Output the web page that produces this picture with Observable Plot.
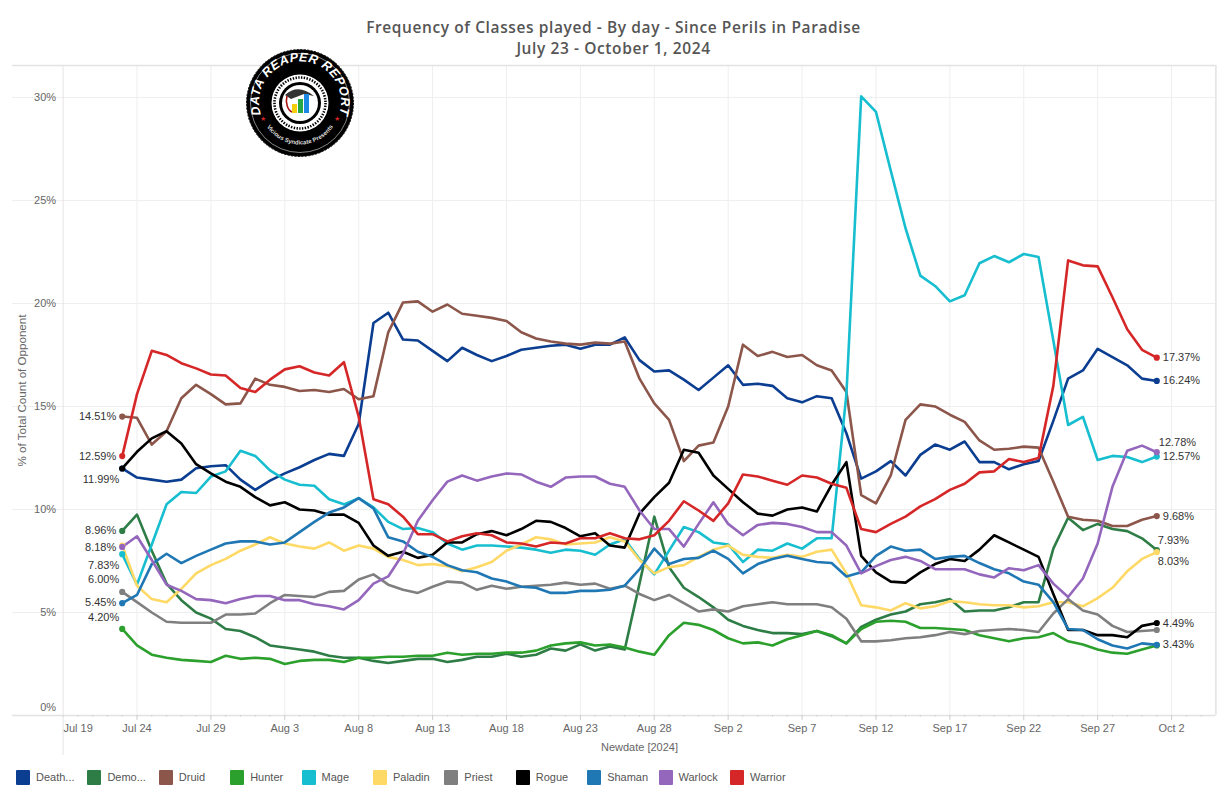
<!DOCTYPE html>
<html>
<head>
<meta charset="utf-8">
<script src="https://cdn.jsdelivr.net/npm/d3@7"></script>
<script src="https://cdn.jsdelivr.net/npm/@observablehq/plot@0.6"></script>
<style>
html,body{margin:0;padding:0;background:#fff;width:1230px;height:802px;overflow:hidden;position:relative}
#title{height:62px;box-sizing:border-box;padding-top:17px;text-align:center;font:600 15.5px/20.5px "Open Sans";color:#555;letter-spacing:.6px;margin-left:-3px}
#chart svg{display:block}
#legend{position:absolute;left:16px;top:769px;display:flex;font:11px "Liberation Sans";color:#555}
#legend .it{width:71.4px;display:flex;align-items:center;height:16px}
#legend .sw{width:14px;height:15px;margin-right:6px;border-radius:1px}
#logo{position:absolute;left:245px;top:47px}
</style>
</head>
<body>
<div id="title">Frequency of Classes played - By day - Since Perils in Paradise<br>July 23 - October 1, 2024</div>
<div id="chart"></div>
<div id="legend"></div>
<svg id="logo" width="110" height="112" viewBox="-55 -56 110 112">
  <defs>
    <path id="arcTop" d="M -39 12 A 41 41 0 1 1 39 12"/>
    <path id="arcBot" d="M -38 14 A 40 40 0 0 0 38 14"/>
  </defs>
  <circle r="53.5" fill="#000" stroke="#111" stroke-width="1" stroke-dasharray="2 1.5"/>
  <circle r="49.5" fill="none" stroke="#ddd" stroke-width=".6"/>
  <text font-family="Liberation Sans" font-weight="bold" font-style="italic" font-size="12.6" fill="#fff" letter-spacing=".5"><textPath href="#arcTop" startOffset="50%" text-anchor="middle">DATA REAPER REPORT</textPath></text>
  <text font-family="Liberation Sans" font-weight="bold" font-size="6" fill="#ddd"><textPath href="#arcBot" startOffset="50%" text-anchor="middle">Vicious Syndicate Presents</textPath></text>
  <circle r="28.5" fill="#fff"/>
  <circle r="25.5" fill="none" stroke="#000" stroke-width="2.6" stroke-dasharray="1.4 1.4"/>
  <circle r="21" fill="#000"/>
  <circle r="18" fill="#fff"/>
  <path d="M-15 -8 Q-2 -20 14 -7 L4 -9 L-9 -4 Z" fill="#333"/>
  <path d="M-13 -7 A 8 12 0 0 0 -8 9" fill="none" stroke="#a11" stroke-width="1.6"/>
  <rect x="-8" y="1" width="5" height="9" fill="#f4d00c"/>
  <rect x="-2" y="-4" width="5" height="14" fill="#28a745"/>
  <rect x="4" y="-9" width="5" height="19" fill="#1e88e5"/>
  <text x="-37" y="18" font-size="7" fill="#c22" text-anchor="middle">★</text>
  <text x="37" y="18" font-size="7" fill="#c22" text-anchor="middle">★</text>
</svg>
<script>
const classes = ["Death...", "Demo...", "Druid", "Hunter", "Mage", "Paladin", "Priest", "Rogue", "Shaman", "Warlock", "Warrior"];
const colors = ["#0b3d91", "#2e7d46", "#8c564b", "#2ca02c", "#17becf", "#ffd966", "#7f7f7f", "#000000", "#1f77b4", "#9467bd", "#d62728"];

const deathKnight = [11.99,11.55,11.45,11.35,11.45,12.0,12.1,12.15,11.45,10.95,11.4,11.75,12.05,12.4,12.7,12.6,14.15,19.05,19.55,18.25,
  18.2,17.7,17.2,17.85,17.5,17.2,17.45,17.75,17.85,17.95,18.0,17.8,18.0,18.0,18.35,17.25,16.7,16.75,16.3,15.8,
  16.4,17.0,16.05,16.1,16.0,15.4,15.2,15.5,15.4,13.7,11.5,11.85,12.35,11.65,12.65,13.15,12.9,13.3,12.3,12.3,
  11.95,12.2,12.35,14.3,16.35,16.75,17.8,17.4,17.0,16.35,16.24];
const demonHunter = [8.96,9.75,8.0,6.4,5.6,5.0,4.7,4.2,4.1,3.8,3.4,3.3,3.2,3.1,2.9,2.8,2.8,2.65,2.55,2.65,
  2.75,2.75,2.6,2.7,2.85,2.85,3.0,2.85,2.95,3.25,3.15,3.45,3.15,3.35,3.2,6.4,9.65,7.2,6.2,5.75,
  5.25,4.65,4.35,4.15,4.0,4.0,3.95,4.1,3.85,3.5,4.3,4.65,4.9,5.05,5.4,5.5,5.65,5.05,5.1,5.1,
  5.25,5.5,5.5,8.1,9.6,9.0,9.3,9.05,8.95,8.6,8.03];
const druid = [14.51,14.45,13.15,13.8,15.4,16.05,15.6,15.1,15.15,16.35,16.05,15.95,15.75,15.8,15.7,15.85,15.35,15.5,18.6,20.05,
  20.1,19.6,19.95,19.5,19.4,19.3,19.15,18.6,18.3,18.15,18.05,18.0,18.1,18.05,18.15,16.35,15.15,14.35,12.35,13.1,
  13.25,15.0,18.0,17.45,17.65,17.4,17.5,17.0,16.75,15.7,10.7,10.3,11.65,14.35,15.1,15.0,14.6,14.25,13.35,12.9,
  12.95,13.05,13.0,11.35,9.65,9.5,9.45,9.2,9.2,9.5,9.68];
const hunter = [4.2,3.4,2.95,2.8,2.7,2.65,2.6,2.9,2.75,2.8,2.75,2.5,2.65,2.7,2.7,2.6,2.8,2.8,2.85,2.85,
  2.9,2.9,3.05,2.95,3.0,3.0,3.05,3.05,3.15,3.4,3.5,3.55,3.4,3.45,3.3,3.1,2.95,3.9,4.5,4.4,
  4.15,3.75,3.5,3.55,3.4,3.7,3.9,4.1,3.9,3.5,4.2,4.55,4.6,4.55,4.25,4.25,4.2,4.15,3.9,3.75,
  3.6,3.75,3.8,4.0,3.6,3.45,3.2,3.05,3.0,3.2,3.4];
const mage = [7.83,6.35,8.3,10.25,10.85,10.8,11.6,11.85,12.85,12.6,11.9,11.45,11.2,11.15,10.5,10.25,10.55,10.1,9.4,9.05,
  9.1,8.9,8.35,8.05,8.25,8.25,8.2,8.15,8.05,7.9,8.05,8.0,7.8,8.3,8.55,7.6,6.85,8.0,9.15,8.9,
  8.4,8.3,7.45,8.05,8.0,8.35,8.1,8.6,8.6,15.6,30.05,29.3,26.45,23.65,21.35,20.85,20.1,20.4,21.95,22.3,
  22.0,22.4,22.25,18.2,14.1,14.5,12.4,12.6,12.55,12.3,12.57];
const paladin = [8.25,6.3,5.65,5.5,6.15,6.9,7.3,7.6,8.0,8.3,8.65,8.35,8.2,8.1,8.4,8.0,8.25,8.1,7.7,7.55,
  7.3,7.35,7.25,7.0,7.2,7.45,8.0,8.3,8.65,8.55,8.3,8.35,8.4,8.65,8.45,7.55,6.9,7.2,7.3,7.7,
  8.05,8.25,7.8,7.7,7.65,7.8,7.7,7.95,8.05,6.9,5.35,5.25,5.1,5.45,5.2,5.3,5.55,5.5,5.4,5.35,
  5.35,5.25,5.3,5.5,5.5,5.3,5.7,6.2,7.0,7.6,7.93];
const priest = [6.0,5.5,5.0,4.55,4.5,4.5,4.5,4.9,4.9,4.95,5.45,5.85,5.8,5.75,6.0,6.05,6.6,6.85,6.35,6.1,
  5.95,6.25,6.5,6.45,6.1,6.3,6.15,6.25,6.3,6.35,6.45,6.35,6.4,6.15,6.3,5.9,5.6,5.85,5.45,5.05,
  5.15,5.05,5.3,5.4,5.5,5.4,5.4,5.4,5.25,4.7,3.6,3.6,3.65,3.75,3.8,3.9,4.05,3.95,4.1,4.15,
  4.2,4.15,4.05,4.95,5.65,5.1,4.9,4.35,4.05,4.1,4.15];
const rogue = [11.99,12.8,13.45,13.8,13.2,12.2,11.75,11.35,11.1,10.6,10.2,10.35,10.0,9.95,9.75,9.75,9.35,8.25,7.75,7.95,
  7.65,7.8,8.4,8.4,8.8,8.95,8.75,9.05,9.45,9.4,9.1,8.7,8.85,8.25,8.15,9.8,10.6,11.3,12.9,12.75,
  11.65,11.0,10.35,9.8,9.7,10.0,10.1,9.9,11.2,12.3,7.75,6.95,6.5,6.45,6.95,7.35,7.6,7.5,8.05,8.75,
  8.4,8.05,7.7,5.9,4.15,4.15,3.9,3.9,3.8,4.35,4.49];
const shaman = [5.45,5.85,7.35,7.85,7.4,7.75,8.05,8.35,8.45,8.45,8.3,8.4,8.9,9.4,9.85,10.1,10.55,10.05,8.65,8.45,
  7.95,7.7,7.3,7.05,6.95,6.65,6.5,6.25,6.2,5.95,5.95,6.05,6.05,6.1,6.3,7.1,8.1,7.35,7.6,7.65,
  8.0,7.6,6.9,7.35,7.6,7.75,7.6,7.45,7.4,6.75,6.95,7.75,8.2,8.0,8.05,7.6,7.7,7.75,7.4,7.1,
  6.9,6.5,6.35,5.5,4.2,4.15,3.7,3.4,3.25,3.5,3.43];
const warlock = [8.18,8.7,7.55,6.35,6.05,5.65,5.6,5.45,5.65,5.8,5.8,5.6,5.6,5.4,5.3,5.15,5.6,6.4,6.75,7.85,
  9.45,10.45,11.35,11.65,11.4,11.6,11.75,11.7,11.35,11.1,11.55,11.6,11.6,11.25,11.1,9.95,9.05,9.05,8.2,9.3,
  10.35,9.3,8.75,9.25,9.35,9.3,9.15,8.9,8.9,8.25,6.9,7.25,7.55,7.7,7.5,7.1,7.1,7.1,6.85,6.7,
  7.15,7.05,7.3,6.4,5.75,6.65,8.35,11.1,12.85,13.1,12.78];
const warrior = [12.59,15.6,17.7,17.5,17.1,16.85,16.55,16.5,15.9,15.7,16.3,16.8,16.95,16.65,16.5,17.15,14.5,10.5,10.25,9.65,
  8.8,8.8,8.45,8.7,8.85,8.75,8.4,8.35,8.2,8.4,8.35,8.6,8.6,8.85,8.6,8.55,8.75,9.45,10.4,9.95,
  9.45,10.3,11.7,11.6,11.4,11.2,11.65,11.55,11.25,11.05,9.05,8.9,9.3,9.65,10.15,10.5,10.95,11.25,11.8,11.85,
  12.45,12.3,12.5,16.0,22.09,21.85,21.8,20.3,18.75,17.75,17.37];

const seriesValues = [deathKnight, demonHunter, druid, hunter, mage, paladin, priest, rogue, shaman, warlock, warrior];
const xTickLabels = ["Jul 24","Jul 29","Aug 3","Aug 8","Aug 13","Aug 18","Aug 23","Aug 28","Sep 2","Sep 7","Sep 12","Sep 17","Sep 22","Sep 27","Oct 2"];
const yTicks = [5, 10, 15, 20, 25, 30];

const day = i => new Date(Date.UTC(2024, 6, 23 + i));
const parseTick = s => d3.utcParse("%b %d %Y")(s + " 2024");
const rows = classes.flatMap((c, k) => seriesValues[k].map((v, i) => ({cls: c, date: day(i), value: v, i})));
const xTicks = xTickLabels.map(parseTick);
const firstTick = parseTick("Jul 19");
const fmtTick = d3.utcFormat("%b %-d");
const lastTickEnd = parseTick("Oct 5");
const allDays = d3.utcDay.range(firstTick, lastTickEnd);
const fullLeft = new Date(+firstTick - 3.42 * 864e5);

// [class, end of the line, label dx, label dy, anchor]
const endLabels = [
  ["Druid",0,-6,0,"end"],["Warrior",0,-6,0,"end"],["Death...",0,-3,11,"end"],["Demo...",0,-6,0,"end"],
  ["Warlock",0,-6,0,"end"],["Mage",0,-3,11,"end"],["Priest",0,-3,-12,"end"],["Shaman",0,-6,-1,"end"],["Hunter",0,-3,-12,"end"],
  ["Warrior",70,6,0,"start"],["Death...",70,6,0,"start"],["Warlock",70,2,-10,"start"],["Mage",70,6,0,"start"],
  ["Druid",70,6,0,"start"],["Paladin",70,1,-12,"start"],["Demo...",70,1,11,"start"],["Rogue",70,6,0,"start"],["Shaman",70,6,0,"start"]
];
const pct = d3.format(".2f");
const labelMarks = endLabels.map(([c, i, dx, dy, anchor]) =>
  Plot.text(rows.filter(d => d.cls === c && d.i === i), {
    x: "date", y: "value", text: d => pct(d.value) + "%", dx, dy,
    textAnchor: anchor, fill: "#333", fontSize: 11
  }));

const chart = Plot.plot({
  width: 1230, height: 698,
  marginLeft: 62.6, marginRight: 14.6, marginTop: 3, marginBottom: 45,
  style: {fontFamily: "Liberation Sans", fontSize: "11px", color: "#666", background: "#fff"},
  x: {type: "utc", domain: [firstTick, lastTickEnd]},
  y: {domain: [0, 31.55]},
  color: {domain: classes, range: colors},
  marks: [
    Plot.gridX(xTicks, {stroke: "#eeeeee", strokeOpacity: 1}),
    Plot.gridY(yTicks, {stroke: "#eeeeee", strokeOpacity: 1, x1: fullLeft}),
    Plot.ruleY([0, 31.55], {x1: fullLeft, x2: lastTickEnd, stroke: "#e2e2e2", strokeWidth: 1.5}),
    Plot.ruleX([firstTick], {y1: -1.95, y2: 31.55, stroke: "#e4e4e4"}),
    Plot.ruleX([lastTickEnd], {y1: 0, y2: 31.55, stroke: "#e2e2e2", strokeWidth: 1.5}),
    Plot.axisX({ticks: allDays, tickSize: 2, tickFormat: () => "", stroke: "#d8d8d8", label: null}),
    Plot.axisX({ticks: xTicks, tickSize: 5, tickPadding: 4, tickFormat: fmtTick, stroke: "#d0d0d0", fill: "#666",
      label: "Newdate [2024]", labelAnchor: "center", labelOffset: 35, labelArrow: "none"}),
    Plot.axisX({ticks: [firstTick], tickSize: 0, tickPadding: 9, dx: 15, tickFormat: fmtTick, fill: "#666", label: null}),
    Plot.axisY({ticks: yTicks, tickSize: 0, tickPadding: 7, tickFormat: d => d + "%", fill: "#666", label: null}),
    Plot.axisY({ticks: [0], tickSize: 0, tickPadding: 7, dy: -8, tickFormat: d => d + "%", fill: "#666", label: null}),
    Plot.axisY({ticks: [], fontSize: 11.6, label: "% of Total Count of Opponent", labelAnchor: "center", labelOffset: 45, labelArrow: "none"}),
    Plot.line(rows, {x: "date", y: "value", z: "cls", stroke: "cls", strokeWidth: 2.6, strokeLinejoin: "round", curve: "linear"}),
    Plot.dot(rows.filter(d => d.i === 0 || d.i === 70), {x: "date", y: "value", fill: "cls", r: 3.1}),
    ...labelMarks
  ]
});
document.getElementById("chart").append(chart);

const legend = document.getElementById("legend");
classes.forEach((c, k) => {
  const it = document.createElement("div"); it.className = "it";
  const sw = document.createElement("span"); sw.className = "sw"; sw.style.background = colors[k];
  const t = document.createElement("span"); t.textContent = c;
  it.append(sw, t); legend.append(it);
});
</script>
</body>
</html>
